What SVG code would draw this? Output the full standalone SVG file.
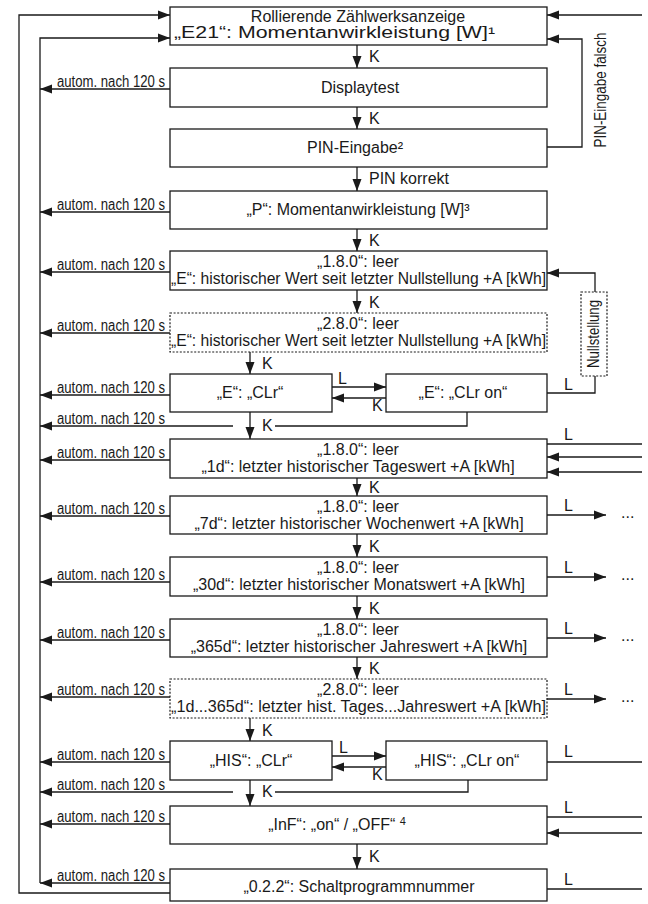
<svg xmlns="http://www.w3.org/2000/svg" width="648" height="904" viewBox="0 0 648 904">
<style>
text{font-family:"Liberation Sans",Arial,sans-serif;font-size:16px;fill:#1a1a1a}
.c{text-anchor:middle}
.s{font-size:16px}
.b{fill:#fff;stroke:#1a1a1a;stroke-width:1.3}
.d{fill:#fff;stroke:#1a1a1a;stroke-width:1.2;stroke-dasharray:2 1.6}
.l{fill:none;stroke:#1a1a1a;stroke-width:1.3}
.a{marker-end:url(#ah)}
</style>
<defs>
<marker id="ah" markerUnits="userSpaceOnUse" markerWidth="12" markerHeight="10" refX="12" refY="5" orient="auto"><path d="M0,0.5 L12,5 L0,9.5 z" fill="#1a1a1a"/></marker>
</defs>
<rect width="648" height="904" fill="#fff"/>
<g id="n1"><rect class="b" x="170" y="7" width="377" height="38"/><text class="c" x="358" y="22">Rollierende Zählwerksanzeige</text><text x="174" y="38" textLength="321" lengthAdjust="spacingAndGlyphs">„E21“: Momentanwirkleistung [W]¹</text></g>
<g id="n2"><rect class="b" x="170" y="68" width="377" height="39"/><text class="c" x="360" y="93">Displaytest</text></g>
<g id="n3"><rect class="b" x="170" y="129" width="377" height="38"/><text class="c" x="355" y="153">PIN-Eingabe²</text></g>
<g id="n4"><rect class="b" x="170" y="191" width="377" height="38"/><text class="c" x="358" y="215">„P“: Momentanwirkleistung [W]³</text></g>
<g id="n5"><rect class="b" x="170" y="251" width="377" height="39"/><text class="c" x="358" y="267">„1.8.0“: leer</text><text x="171" y="284" textLength="375" lengthAdjust="spacingAndGlyphs">„E“: historischer Wert seit letzter Nullstellung +A [kWh]</text></g>
<g id="n6"><rect class="d" x="170" y="313" width="377" height="39"/><text class="c" x="358" y="329">„2.8.0“: leer</text><text x="171" y="346" textLength="375" lengthAdjust="spacingAndGlyphs">„E“: historischer Wert seit letzter Nullstellung +A [kWh]</text></g>
<g id="n7"><rect class="b" x="170" y="374" width="162" height="38"/><text class="c" x="250" y="398">„E“: „CLr“</text></g>
<g id="n8"><rect class="b" x="386" y="374" width="161" height="38"/><text class="c" x="463" y="398">„E“: „CLr on“</text></g>
<g id="n9"><rect class="d" x="581" y="292" width="26" height="84"/><text class="c s" transform="translate(599,334) rotate(-90)" textLength="68" lengthAdjust="spacingAndGlyphs">Nullstellung</text></g>
<g id="n10"><rect class="b" x="170" y="439" width="377" height="39"/><text class="c" x="358" y="455">„1.8.0“: leer</text><text class="c" x="358" y="472">„1d“: letzter historischer Tageswert +A [kWh]</text></g>
<g id="n11"><rect class="b" x="170" y="496" width="377" height="38"/><text class="c" x="358" y="512">„1.8.0“: leer</text><text class="c" x="359" y="529">„7d“: letzter historischer Wochenwert +A [kWh]</text></g>
<g id="n12"><rect class="b" x="170" y="557" width="377" height="39"/><text class="c" x="358" y="573">„1.8.0“: leer</text><text class="c" x="359" y="590">„30d“: letzter historischer Monatswert +A [kWh]</text></g>
<g id="n13"><rect class="b" x="170" y="619" width="377" height="38"/><text class="c" x="358" y="635">„1.8.0“: leer</text><text class="c" x="359" y="652">„365d“: letzter historischer Jahreswert +A [kWh]</text></g>
<g id="n14"><rect class="d" x="170" y="679" width="377" height="39"/><text class="c" x="358" y="695">„2.8.0“: leer</text><text x="171" y="712" textLength="375" lengthAdjust="spacingAndGlyphs">„1d...365d“: letzter hist. Tages...Jahreswert +A [kWh]</text></g>
<g id="n15"><rect class="b" x="170" y="741" width="162" height="39"/><text class="c" x="251" y="766">„HIS“: „CLr“</text></g>
<g id="n16"><rect class="b" x="386" y="741" width="161" height="39"/><text class="c" x="467" y="766">„HIS“: „CLr on“</text></g>
<g id="n17"><rect class="b" x="170" y="806" width="377" height="38"/><text class="c" x="337" y="830">„InF“: „on“ / „OFF“ <tspan font-size="11" dy="-5">4</tspan></text></g>
<g id="n18"><rect class="b" x="170" y="869" width="377" height="32"/><text class="c" x="359" y="892">„0.2.2“: Schaltprogrammnummer</text></g>
<g id="connectors">
<path class="l a" d="M357,45 V68"/><text x="369" y="62">K</text>
<path class="l a" d="M357,107 V129"/><text x="369" y="124">K</text>
<path class="l a" d="M357,167 V191"/><text x="369" y="184">PIN korrekt</text>
<path class="l a" d="M357,229 V251"/><text x="369" y="246">K</text>
<path class="l a" d="M357,290 V313"/><text x="369" y="308">K</text>
<path class="l a" d="M250,352 V374"/><text x="262" y="369">K</text>
<path class="l a" d="M250,412 V439"/><text x="262" y="431">K</text>
<path class="l a" d="M357,478 V496"/><text x="369" y="493">K</text>
<path class="l a" d="M357,534 V557"/><text x="369" y="552">K</text>
<path class="l a" d="M357,596 V619"/><text x="369" y="614">K</text>
<path class="l a" d="M357,657 V679"/><text x="369" y="674">K</text>
<path class="l a" d="M250,718 V741"/><text x="262" y="736">K</text>
<path class="l a" d="M250,780 V806"/><text x="262" y="797">K</text>
<path class="l a" d="M357,844 V869"/><text x="369" y="862">K</text>
<path class="l a" d="M332,387 H386"/><text x="338" y="384">L</text>
<path class="l a" d="M386,398 H332"/><text x="372" y="411">K</text>
<path class="l a" d="M332,756 H386"/><text x="339" y="753">L</text>
<path class="l a" d="M386,767 H332"/><text x="372" y="780">K</text>
<path class="l" d="M467,412 V426 H275"/>
<path class="l" d="M468,780 V792 H275"/>
<path class="l" d="M547,393 H595 V376"/><text x="564" y="390">L</text>
<path class="l a" d="M595,292 V273 H547"/>
<path class="l a" d="M170,893 H19 V15 H170"/>
<path class="l a" d="M40,883 V38 H170"/>
<path class="l a" d="M642,15 H547"/>
<path class="l a" d="M547,147 H582 V39 H547"/>
<text class="s" transform="translate(606,90) rotate(-90)" text-anchor="middle" textLength="115" lengthAdjust="spacingAndGlyphs">PIN-Eingabe falsch</text>
<path class="l a" d="M170,89 H40"/><text class="s" x="57" y="87" textLength="108" lengthAdjust="spacingAndGlyphs">autom. nach 120 s</text>
<path class="l a" d="M170,212 H40"/><text class="s" x="57" y="210" textLength="108" lengthAdjust="spacingAndGlyphs">autom. nach 120 s</text>
<path class="l a" d="M170,272 H40"/><text class="s" x="57" y="270" textLength="108" lengthAdjust="spacingAndGlyphs">autom. nach 120 s</text>
<path class="l a" d="M170,333 H40"/><text class="s" x="57" y="331" textLength="108" lengthAdjust="spacingAndGlyphs">autom. nach 120 s</text>
<path class="l a" d="M170,395 H40"/><text class="s" x="57" y="393" textLength="108" lengthAdjust="spacingAndGlyphs">autom. nach 120 s</text>
<path class="l a" d="M233,426 H40"/><text class="s" x="57" y="424" textLength="108" lengthAdjust="spacingAndGlyphs">autom. nach 120 s</text>
<path class="l a" d="M170,460 H40"/><text class="s" x="57" y="458" textLength="108" lengthAdjust="spacingAndGlyphs">autom. nach 120 s</text>
<path class="l a" d="M170,516 H40"/><text class="s" x="57" y="514" textLength="108" lengthAdjust="spacingAndGlyphs">autom. nach 120 s</text>
<path class="l a" d="M170,582 H40"/><text class="s" x="57" y="580" textLength="108" lengthAdjust="spacingAndGlyphs">autom. nach 120 s</text>
<path class="l a" d="M170,640 H40"/><text class="s" x="57" y="638" textLength="108" lengthAdjust="spacingAndGlyphs">autom. nach 120 s</text>
<path class="l a" d="M170,697 H40"/><text class="s" x="57" y="695" textLength="108" lengthAdjust="spacingAndGlyphs">autom. nach 120 s</text>
<path class="l a" d="M170,762 H40"/><text class="s" x="57" y="760" textLength="108" lengthAdjust="spacingAndGlyphs">autom. nach 120 s</text>
<path class="l a" d="M233,792 H40"/><text class="s" x="57" y="790" textLength="108" lengthAdjust="spacingAndGlyphs">autom. nach 120 s</text>
<path class="l a" d="M170,824 H40"/><text class="s" x="57" y="822" textLength="108" lengthAdjust="spacingAndGlyphs">autom. nach 120 s</text>
<path class="l a" d="M170,883 H40"/><text class="s" x="57" y="881" textLength="108" lengthAdjust="spacingAndGlyphs">autom. nach 120 s</text>
<path class="l" d="M547,444 H642"/><text x="564" y="440">L</text>
<path class="l a" d="M642,457 H547"/>
<path class="l a" d="M642,472 H547"/>
<path class="l a" d="M547,515 H606"/><text x="564" y="511">L</text><text x="621" y="518" font-size="13">...</text>
<path class="l a" d="M547,577 H606"/><text x="564" y="573">L</text><text x="621" y="580" font-size="13">...</text>
<path class="l a" d="M547,638 H606"/><text x="564" y="634">L</text><text x="621" y="641" font-size="13">...</text>
<path class="l a" d="M547,699 H606"/><text x="564" y="695">L</text><text x="621" y="702" font-size="13">...</text>
<path class="l" d="M547,762 H642"/><text x="564" y="757">L</text>
<path class="l" d="M547,817 H642"/><text x="564" y="813">L</text>
<path class="l a" d="M642,833 H547"/>
<path class="l" d="M547,889 H642"/><text x="564" y="885">L</text>
</g>
</svg>
